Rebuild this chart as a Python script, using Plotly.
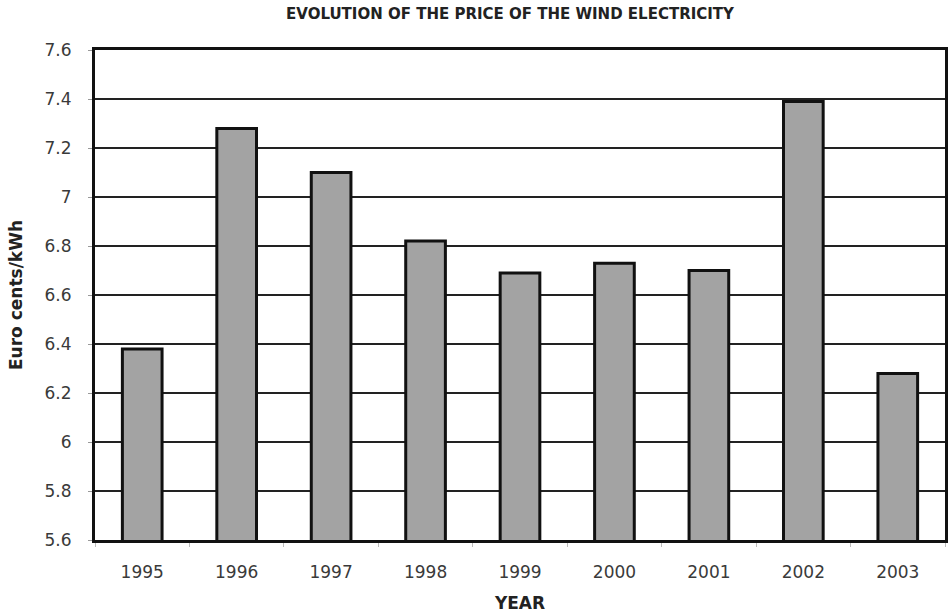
import plotly.graph_objects as go

years = ["1995", "1996", "1997", "1998", "1999", "2000", "2001", "2002", "2003"]
prices = [6.38, 7.28, 7.10, 6.82, 6.69, 6.73, 6.70, 7.39, 6.28]
y_ticks = [5.6, 5.8, 6.0, 6.2, 6.4, 6.6, 6.8, 7.0, 7.2, 7.4, 7.6]
y_labels = ["5.6", "5.8", "6", "6.2", "6.4", "6.6", "6.8", "7", "7.2", "7.4", "7.6"]

fig = go.Figure(go.Bar(
    x=years, y=prices,
    marker=dict(color="#a3a3a3", line=dict(color="#111111", width=3)),
    width=0.42,
))

fig.update_layout(
    width=951, height=615,
    margin=dict(l=95, r=3, t=50, b=75),
    paper_bgcolor="white", plot_bgcolor="white",
    font=dict(family="DejaVu Sans, sans-serif", color="#333333", size=16),
    title=dict(text="<b>EVOLUTION OF THE PRICE OF THE WIND ELECTRICITY</b>",
               x=510/951, xanchor="center", y=1 - 14/615, yanchor="middle",
               font=dict(size=15, color="#222222", family="DejaVu Sans, sans-serif")),
    showlegend=False,
    bargap=0.58,
)

fig.update_yaxes(
    range=[5.6, 7.6], tickvals=y_ticks, ticktext=y_labels,
    showgrid=True, gridcolor="#222222", gridwidth=2,
    showline=True, linecolor="#111111", linewidth=3, mirror=True,
    ticks="outside", ticklen=4, tickcolor="#999999",
    ticklabelstandoff=13,
    tickfont=dict(size=17, color="#3a3a3a"),
    title=dict(text="<b>Euro cents/kWh</b>", font=dict(size=17, color="#222222"), standoff=18),
    zeroline=False,
)
fig.update_xaxes(
    showline=True, linecolor="#111111", linewidth=3, mirror=True,
    ticks="outside", tickson="boundaries", ticklen=4, tickcolor="#bbbbbb",
    ticklabelstandoff=15,
    tickfont=dict(size=17, color="#3a3a3a"),
    title=dict(text="<b>YEAR</b>", font=dict(size=17, color="#222222"), standoff=16),
)

fig.write_html("out.html", config={"displayModeBar": False},
               post_script="document.body.style.margin='0px';")
